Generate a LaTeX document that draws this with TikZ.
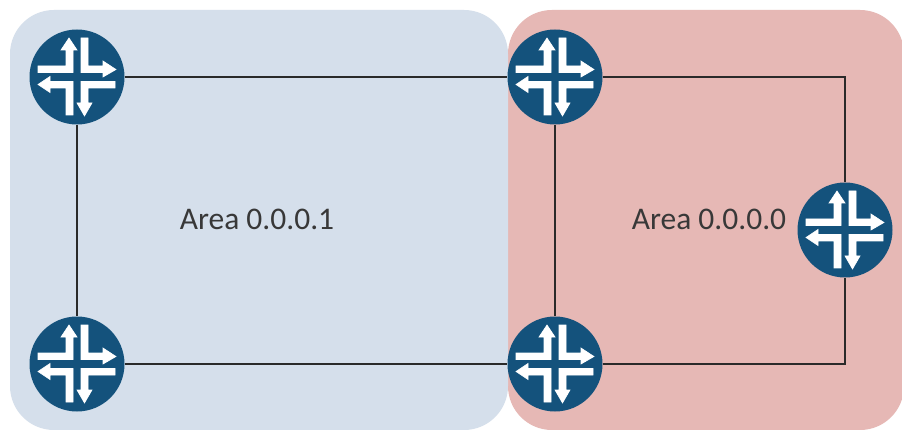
\documentclass[tikz,border=0pt]{standalone}
\usepackage{fontspec}
\setmainfont{Carlito}
\definecolor{areablue}{HTML}{D5DFEB}
\definecolor{areared}{HTML}{E6B8B5}
\definecolor{routerblue}{HTML}{14527C}
\definecolor{linkcol}{HTML}{2A2A2A}
\tikzset{
  area/.style={draw=none,rounded corners=44pt},
  routercirc/.style={circle,fill=routerblue,draw=none,minimum size=95pt,inner sep=0pt},
  arrowshape/.style={fill=white,draw=white,line width=0.6pt,line join=miter},
  link/.style={draw=linkcol,line width=1.5pt},
  arealabel/.style={font=\fontsize{31.5}{36}\selectfont,text=black!78,inner sep=0pt}
}
\newcommand{\routerglyph}[3]{%
  \node[routercirc] (#1) at (#2,#3) {};
  \begin{scope}[shift={(#2,#3)}]
    \path[arrowshape] (-39,-11) -- (-11,-11) -- (-11,-27) -- (-16,-27) -- (-8,-39) -- (0,-27) -- (-4,-27) -- (-4,-4.5) -- (-39,-4.5) -- cycle;
    \path[arrowshape] (4,-39) -- (11,-39) -- (11,-11) -- (26,-11) -- (26,-16) -- (39,-7.5) -- (26,0) -- (26,-4.5) -- (4,-4.5) -- cycle;
    \path[arrowshape] (-39,7.5) -- (-27,-0.5) -- (-27,4.5) -- (-4,4.5) -- (-4,38) -- (-11,38) -- (-11,11) -- (-27,11) -- (-27,15.5) -- cycle;
    \path[arrowshape] (38,4.5) -- (38,11) -- (11,11) -- (11,26) -- (15,26) -- (7.5,39) -- (0,26) -- (4,26) -- (4,4.5) -- cycle;
  \end{scope}}
\begin{document}
\begin{tikzpicture}[x=1pt,y=-1pt]
\useasboundingbox (0,0) rectangle (902,430);
\fill[white] (0,0) rectangle (902,430);
\path[area,fill=areared] (508,10) rectangle (904,430);
\path[area,fill=areablue] (10,10) rectangle (508,430);
\routerglyph{ra}{77}{77}
\routerglyph{rb}{555}{77}
\routerglyph{rc}{77}{364}
\routerglyph{rd}{555}{364}
\routerglyph{re}{845}{230}
\draw[link] (ra) -- (rb);
\draw[link] (ra) -- (rc);
\draw[link] (rc) -- (rd);
\draw[link] (rb) -- (rd);
\draw[link] (rb) -| (re);
\draw[link] (rd) -| (re);
\node[arealabel] (l1) at (257,219) {Area 0.0.0.1};
\node[arealabel] (l2) at (709,219) {Area 0.0.0.0};
\end{tikzpicture}
\end{document}
